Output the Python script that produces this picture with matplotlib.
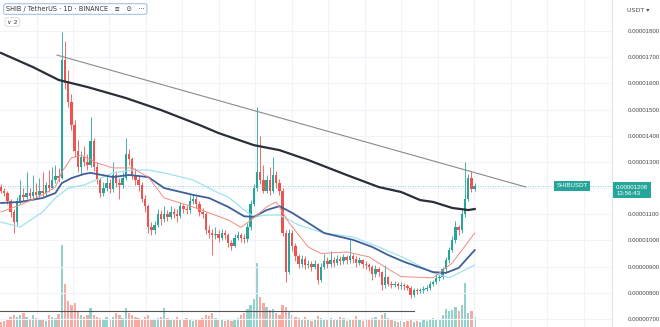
import numpy as np
import matplotlib
matplotlib.use("Agg")
import matplotlib.pyplot as plt

# Daily SHIB/USDT candles, prices in units of 1e-8 USDT
closes = [1190, 1180, 1150, 1110, 1070, 1150, 1175, 1165, 1180, 1170,
          1185, 1175, 1190, 1180, 1210, 1200, 1230, 1245, 1240, 1690,
          1600, 1530, 1440, 1340, 1280, 1320, 1300, 1290, 1380, 1280,
          1230, 1180, 1200, 1220, 1195, 1250, 1220, 1210, 1240, 1330,
          1310, 1250, 1230, 1210, 1160, 1130, 1050, 1040, 1060, 1100,
          1080, 1100, 1090, 1110, 1100, 1095, 1130, 1120, 1115, 1150,
          1160, 1140, 1110, 1100, 1040, 1030, 1020, 1025, 1010, 1030,
          1020, 990, 980, 1010, 1020, 1010, 1005, 1050, 1140, 1200,
          1260, 1230, 1190, 1230, 1190, 1250, 1220, 1190, 1030, 880,
          1030, 980, 940, 910, 930, 905, 910, 900, 910, 850,
          900, 920, 910, 925, 915, 930, 920, 935, 925, 940,
          930, 915, 925, 910, 905, 900, 870, 890, 880, 830,
          860, 835, 830, 835, 825, 830, 825, 820, 790, 810,
          805, 810, 815, 820, 835, 840, 855, 860, 890, 925,
          965, 1000, 1050, 1040, 1100, 1160, 1240, 1195, 1208]
first_open = 1205

highs = [1215, 1200, 1190, 1160, 1120, 1165, 1230, 1200, 1260, 1200,
         1250, 1220, 1240, 1260, 1225, 1270, 1280, 1290, 1275, 1795,
         1760, 1650, 1560, 1460, 1385, 1340, 1360, 1330, 1470, 1390,
         1300, 1240, 1225, 1250, 1235, 1300, 1265, 1240, 1260, 1390,
         1350, 1320, 1275, 1245, 1225, 1175, 1140, 1070, 1075, 1120,
         1115, 1130, 1115, 1130, 1125, 1120, 1145, 1140, 1135, 1175,
         1175, 1170, 1150, 1125, 1110, 1060, 1045, 1050, 1040, 1045,
         1040, 1030, 1000, 1025, 1035, 1030, 1025, 1065, 1155, 1215,
         1510, 1400, 1290, 1250, 1280, 1320, 1265, 1235, 1200, 1040,
         1045, 1040, 990, 950, 945, 940, 925, 920, 925, 915,
         915, 950, 935, 960, 935, 945, 940, 950, 945, 1000,
         950, 940, 935, 930, 920, 915, 905, 905, 900, 885,
         905, 865, 845, 845, 840, 840, 838, 832, 825, 820,
         818, 820, 825, 830, 845, 850, 880, 870, 900, 935,
         975, 1015, 1075, 1060, 1115, 1300, 1255, 1265, 1220]

lows = [1180, 1170, 1140, 1090, 1030, 1060, 1140, 1150, 1160, 1155,
        1160, 1160, 1165, 1170, 1170, 1185, 1195, 1220, 1225, 1235,
        1580, 1510, 1420, 1320, 1260, 1250, 1285, 1270, 1280, 1265,
        1215, 1165, 1170, 1190, 1180, 1185, 1205, 1160, 1200, 1230,
        1290, 1235, 1210, 1190, 1145, 1110, 1030, 1020, 1025, 1050,
        1060, 1070, 1075, 1080, 1085, 1070, 1085, 1105, 1100, 1105,
        1140, 1125, 1095, 1085, 1025, 1010, 945, 1005, 995, 1000,
        1005, 975, 965, 975, 1000, 995, 990, 995, 1040, 1130,
        1190, 1215, 1180, 1180, 1175, 1180, 1200, 1175, 1015, 840,
        870, 960, 920, 895, 900, 890, 895, 885, 890, 835,
        840, 890, 895, 900, 900, 905, 905, 910, 910, 915,
        915, 900, 905, 895, 890, 885, 850, 860, 865, 810,
        820, 825, 820, 822, 815, 815, 812, 810, 780, 785,
        795, 798, 800, 805, 812, 825, 832, 845, 852, 880,
        915, 955, 990, 1020, 1030, 1090, 1150, 1185, 1190]

volumes = [5, 6, 8, 10, 12, 10, 12, 14, 10, 8, 12, 9, 7, 8, 6, 12, 10, 9, 13,
           81, 43, 26, 22, 24, 16, 12, 10, 12, 19, 12, 10, 9, 8, 10, 8, 10,
           14, 12, 9, 19, 14, 12, 10, 9, 8, 10, 12, 8, 7, 9, 10, 19,
           9, 8, 7, 10, 8, 7, 9, 8, 6, 7, 8, 9,
           12, 11, 14, 9, 8, 7, 6, 7, 6, 8, 9, 12, 14,
           18, 22, 28, 63, 30, 24, 20, 17, 18, 14, 12, 22, 20, 15, 12, 10,
           9, 8, 10, 7, 6, 8, 11, 9,
           8, 7, 9, 8, 7, 10, 9, 6, 7, 8, 11, 7, 6, 8, 7, 9, 10, 8, 12,
           14, 9, 8, 6, 5, 6, 5, 6, 7, 5, 6, 5, 7, 6, 8, 9, 7, 8, 12, 18,
           16, 17, 20, 16, 22, 44, 14, 16, 10]

# Moving averages (candle index, price)
ma200_idx = [0, 10, 18, 27, 39, 50, 62, 68, 79, 84, 87, 96, 108, 118, 125, 131, 135, 141, 146, 148]
ma200 = [1716, 1662, 1613, 1586, 1544, 1498, 1441, 1410, 1364, 1352, 1345, 1307, 1250, 1204,
         1185, 1154, 1147, 1124, 1116, 1120]
blue_idx = [0, 6, 13, 17, 19, 22, 26, 28, 35, 40, 46, 51, 60, 65, 71, 76, 79, 83, 87, 91,
            96, 101, 110, 116, 121, 126, 135, 139, 143, 148]
blue_ma = [1143, 1147, 1162, 1181, 1219, 1238, 1254, 1258, 1242, 1250, 1242, 1200, 1174, 1162,
           1128, 1092, 1090, 1116, 1131, 1105, 1067, 1028, 1002, 975, 944, 918, 879, 876, 895, 963]
cyan_idx = [0, 6, 13, 17, 21, 26, 35, 41, 46, 51, 60, 68, 71, 76, 79, 83, 87, 93, 101, 110,
            118, 126, 135, 140, 148]
cyan_ma = [1070, 1051, 1109, 1162, 1200, 1212, 1258, 1269, 1269, 1258, 1231, 1181, 1166, 1116,
           1090, 1097, 1097, 1059, 1028, 1013, 975, 933, 876, 857, 906]
red_idx = [0, 6, 13, 17, 19, 22, 25, 30, 35, 41, 46, 51, 60, 71, 75, 79, 83, 86, 90, 96,
           100, 108, 115, 120, 125, 135, 141, 148]
red_ma = [1109, 1135, 1174, 1204, 1261, 1315, 1326, 1296, 1277, 1277, 1242, 1162, 1128, 1078,
          1050, 1086, 1128, 1147, 1067, 975, 950, 956, 937, 898, 862, 857, 914, 1028]

# Drawn objects
trend_idx = [17.5, 164]
trend_price = [1708, 1204]
hline_price = 730
hline_end = 129
last_price = 1208
price_ticks = [700, 800, 900, 1000, 1100, 1300, 1400, 1500, 1600, 1700, 1800]

GREEN = "#26a69a"
RED = "#ef5350"

n = len(closes)
idx = np.arange(n)
opens = np.array([first_open] + closes[:-1])
closes_a = np.array(closes)
up = closes_a >= opens

W, H = 660, 327
fig = plt.figure(figsize=(W / 100, H / 100), dpi=100)
fig.patch.set_facecolor("white")
rect = [0, 0, 612 / W, 1]
xlim = (-0.31, 190.9)

# volume pane (behind)
vax = fig.add_axes(rect, zorder=0)
vax.bar(idx, volumes, width=0.72,
        color=np.where(up, "#93d2cb", "#f7a9a4"), linewidth=0)
vax.set_xlim(*xlim)
vax.set_ylim(0, max(volumes) * 4.0)
vax.axis("off")

ax = fig.add_axes(rect, zorder=1)
ax.patch.set_visible(False)
ax.set_xlim(*xlim)
ax.set_ylim(669.3, 1918.4)

for p in range(700, 1900, 100):
    ax.axhline(p, color="#f0f3fa", lw=0.8, zorder=0)
for gx in np.arange(11.1, 190, 11.4):
    ax.axvline(gx, color="#f0f3fa", lw=0.8, zorder=0)

# candles
colors = np.where(up, GREEN, RED)
ax.vlines(idx, lows, highs, colors=colors, lw=0.6, zorder=3)
body = closes_a - opens
body = np.where(np.abs(body) < 3, np.where(up, 3, -3), body)
ax.bar(idx, body, bottom=opens, width=0.75, color=colors, linewidth=0, zorder=4)

# moving averages
ax.plot(ma200_idx, ma200, color="#2a2e39", lw=1.6, zorder=5)
ax.plot(cyan_idx, cyan_ma, color="#9fe3ee", lw=0.9, zorder=5)
ax.plot(blue_idx, blue_ma, color="#3f5f9a", lw=1.3, zorder=5)
ax.plot(red_idx, red_ma, color="#f28b82", lw=0.7, zorder=5)

# drawings
ax.plot(trend_idx, trend_price, color="#8a8a8a", lw=0.8, zorder=6)
ax.plot([xlim[0], hline_end], [hline_price, hline_price], color="#555555", lw=0.8, zorder=6)
ax.axhline(last_price, color=GREEN, lw=0.6, ls=(0, (1, 2)), alpha=0.7, zorder=2)

# right price scale
ax.yaxis.tick_right()
ax.set_yticks(price_ticks)
ax.set_yticklabels([f"{p * 1e-8:.8f}" for p in price_ticks], family="Liberation Sans")
ax.tick_params(axis="y", length=0, labelsize=4.4, colors="#4a4a4a", pad=11)
ax.set_xticks([])
for s in ["top", "left", "bottom"]:
    ax.spines[s].set_visible(False)
ax.spines["right"].set_color("#e0e3eb")
ax.spines["right"].set_linewidth(0.8)

fig.text(627 / W, 1 - 11 / H, "USDT ▾", fontsize=4.6, color="#4a4a4a", va="center")

# last price labels
ax.annotate(f"{last_price * 1e-8:.8f}\n13:56:43", xy=(1.0, last_price),
            xycoords=("axes fraction", "data"), xytext=(3, -3), textcoords="offset points",
            fontsize=4.4, family="Liberation Sans", color="white", va="center", ha="left",
            linespacing=1.2, bbox=dict(boxstyle="square,pad=0.45", fc=GREEN, ec="none"),
            zorder=10, annotation_clip=False)
ax.annotate("SHIBUSDT", xy=(0.935, last_price), xycoords=("axes fraction", "data"),
            fontsize=4.4, family="Liberation Sans", color="white", va="center", ha="center",
            bbox=dict(boxstyle="square,pad=0.35", fc=GREEN, ec="none"), zorder=10)

# legend boxes
fig.text(6 / W, 1 - 9 / H, "SHIB / TetherUS · 1D · BINANCE   ≡   ⊙   ···", fontsize=4.7,
         color="#333333", va="center",
         bbox=dict(boxstyle="round,pad=0.35,rounding_size=0.3", fc="white", ec="#9bb7e6", lw=0.7))
fig.text(7 / W, 1 - 22 / H, "∨ 2", fontsize=4.5, color="#444444", va="center",
         bbox=dict(boxstyle="round,pad=0.3", fc="white", ec="#d6d9e0", lw=0.6))

fig.savefig("out.png", dpi=100)
